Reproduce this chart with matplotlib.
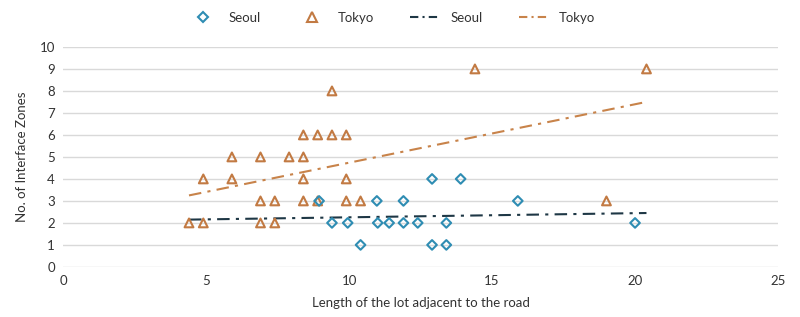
import numpy as np
import matplotlib.pyplot as plt
from matplotlib.lines import Line2D

plt.rcParams['font.family'] = ['Lato', 'DejaVu Sans']

seoul_x = [8.95, 9.4, 9.95, 10.4, 10.97, 11.0, 11.4, 11.9, 11.9, 12.4,
           12.9, 12.9, 13.4, 13.4, 13.9, 15.9, 20.0]
seoul_y = [3, 2, 2, 1, 3, 2, 2, 3, 2, 2, 4, 1, 2, 1, 4, 3, 2]

tokyo_x = [4.4, 4.9, 4.9, 5.9, 5.9, 6.9, 6.9, 6.9, 7.4, 7.4, 7.9, 8.4, 8.4,
           8.4, 8.4, 8.9, 8.9, 9.4, 9.4, 9.9, 9.9, 9.9, 10.4, 14.4, 19.0, 20.4]
tokyo_y = [2, 2, 4, 5, 4, 5, 3, 2, 3, 2, 5, 6, 5, 4, 3, 6, 3, 8, 6, 6, 4, 3,
           3, 9, 3, 9]

# trendline ends
trend_x = [4.4, 20.4]
seoul_trend = [2.15, 2.45]
tokyo_trend = [3.25, 7.5]

seoul_c = '#2F8DB3'
tokyo_c = '#C27A43'
text_c = '#333333'

fig = plt.figure(figsize=(8, 3.17), dpi=100)
ax = fig.add_axes([0.079, 0.158, 0.8935, 0.694])

ax.scatter(tokyo_x, tokyo_y, marker='^', s=40, facecolors='none',
           edgecolors=tokyo_c, linewidths=1.5, zorder=3)
ax.scatter(seoul_x, seoul_y, marker='D', s=24, facecolors='none',
           edgecolors=seoul_c, linewidths=1.5, zorder=4)
ax.plot(trend_x, seoul_trend, color='#1E3745', lw=1.5, ls=(0, (6, 3, 1.5, 3)), zorder=2)
ax.plot(trend_x, tokyo_trend, color='#C8834A', lw=1.5, ls=(0, (6, 3, 1.5, 3)), zorder=2)

ax.set_xlim(0, 25)
ax.set_ylim(0, 10)
ax.set_xticks(range(0, 26, 5))
ax.set_yticks(range(0, 11))
ax.tick_params(length=0, labelsize=9.5, colors=text_c, pad=6)
ax.grid(axis='y', color='#D9D9D9', lw=1)
ax.set_axisbelow(True)
for s in ax.spines.values():
    s.set_visible(False)
ax.set_xlabel('Length of the lot adjacent to the road', fontsize=9.5, color=text_c, labelpad=7)
ax.set_ylabel('No. of Interface Zones', fontsize=9.5, color=text_c, labelpad=8)

handles = [
    Line2D([], [], marker='D', ls='none', mfc='none', mec=seoul_c, mew=1.5, ms=5),
    Line2D([], [], marker='^', ls='none', mfc='none', mec=tokyo_c, mew=1.5, ms=7),
    Line2D([], [], color='#1E3745', lw=1.5, ls=(0, (4, 2, 1, 2))),
    Line2D([], [], color='#C8834A', lw=1.5, ls=(0, (4, 2, 1, 2))),
]
fig.legend(handles, ['Seoul', 'Tokyo', 'Seoul', 'Tokyo'], ncol=4, frameon=False,
           loc='center', bbox_to_anchor=(0.49, 0.943), fontsize=9.5,
           columnspacing=2.8, handlelength=2.2, labelcolor=text_c)

fig.savefig('out.png', dpi=100)
